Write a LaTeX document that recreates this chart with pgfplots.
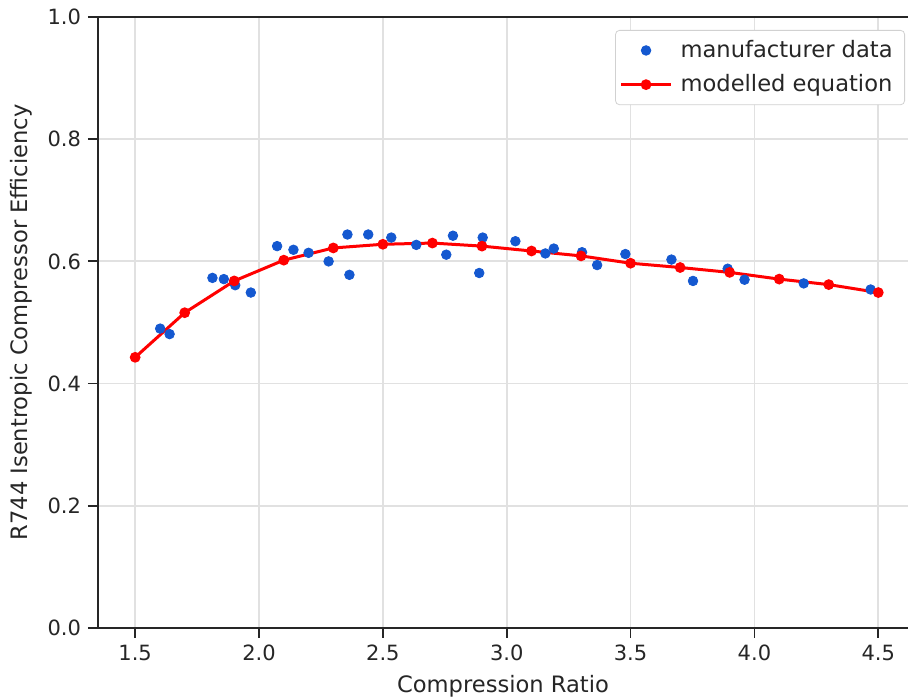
\documentclass[border=0pt]{standalone}
\usepackage{pgfplots}
\pgfplotsset{compat=1.18}
\usepackage{fontspec}
\setmainfont{DejaVu Sans}
\definecolor{mblue}{RGB}{20,88,208}
\definecolor{gridgray}{RGB}{225,225,225}
\begin{document}
\begin{tikzpicture}
\path[use as bounding box] (-49pt,-35.5pt) rectangle (405pt,314pt);
\begin{axis}[
  at={(0,0)}, anchor=south west,
  scale only axis,
  width=405pt, height=305.5pt,
  xmin=1.35, xmax=4.62, ymin=0, ymax=1,
  axis x line=box, axis y line=left,
  axis line style={-, line width=0.9pt, black!85},
  xtick={1.5,2.0,...,4.5}, ytick={0,0.2,...,1.0},
  xticklabel style={/pgf/number format/.cd, fixed, fixed zerofill, precision=1},
  yticklabel style={/pgf/number format/.cd, fixed, fixed zerofill, precision=1},
  /pgf/number format/assume math mode=true,
  tick align=outside, tick pos=left,
  major tick length=5pt,
  tick style={line width=0.9pt, black!85},
  grid=major,
  grid style={line width=0.9pt, gridgray},
  xlabel={Compression Ratio},
  ylabel={R744 Isentropic Compressor Efficiency},
  xlabel style={yshift=-0.5pt},
  ylabel style={yshift=1pt},
  label style={font=\fontsize{11.3}{13}\selectfont, text=black!85},
  ticklabel style={font=\fontsize{10.5}{12}\selectfont, text=black!85},
  legend style={at={(rel axis cs:1,1)}, anchor=north east, xshift=-1.5pt, yshift=-6.5pt,
    draw=black!18, rounded corners=2pt, font=\fontsize{11.3}{13}\selectfont, text=black!85,
    inner xsep=2pt, inner ysep=3pt, row sep=3pt,
    nodes={inner xsep=4pt}},
  legend cell align=left,
]
\addplot[only marks, mark=*, mark size=2.4pt, mark options={draw=mblue, fill=mblue},
  legend image code/.code={\draw[mark=*, mark size=2.4pt, mark options={draw=mblue, fill=mblue}] plot coordinates {(0.44cm,0cm)};}]
coordinates {
(1.601,0.490) (1.639,0.481) (1.812,0.573) (1.858,0.571) (1.904,0.561) (1.967,0.549)
(2.073,0.625) (2.139,0.619) (2.200,0.614) (2.281,0.600) (2.357,0.644) (2.365,0.578)
(2.441,0.644) (2.534,0.639) (2.635,0.627) (2.756,0.611) (2.783,0.642) (2.903,0.639)
(2.889,0.581) (3.035,0.633) (3.156,0.613) (3.190,0.621) (3.304,0.615) (3.365,0.594)
(3.479,0.612) (3.665,0.603) (3.752,0.568) (3.892,0.588) (3.960,0.570) (4.199,0.564)
(4.469,0.554)
};
\addlegendentry{manufacturer data}
\addplot[red, line width=1.5pt, mark=*, mark size=1.9pt, mark options={fill=red, draw=red},
  legend image code/.code={\draw[red, line width=1.5pt, mark=*, mark size=1.9pt, mark options={fill=red, draw=red}, mark repeat=2, mark phase=2] plot coordinates {(0cm,0cm) (0.44cm,0cm) (0.88cm,0cm)};}]
coordinates {
(1.5,0.443) (1.7,0.516) (1.9,0.568) (2.1,0.602) (2.3,0.622) (2.5,0.628) (2.7,0.630)
(2.9,0.625) (3.1,0.617) (3.3,0.609) (3.5,0.597) (3.7,0.590) (3.9,0.582) (4.1,0.571)
(4.3,0.562) (4.5,0.549)
};
\addlegendentry{modelled equation}
\end{axis}
\end{tikzpicture}
\end{document}
